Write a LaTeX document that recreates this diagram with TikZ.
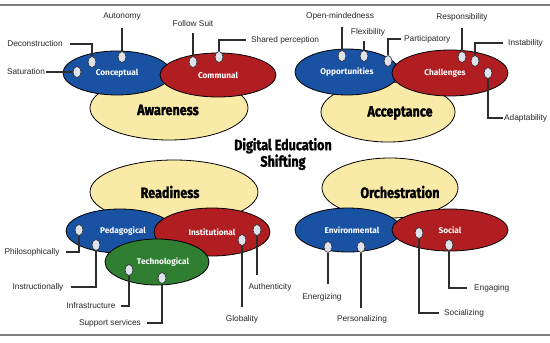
\documentclass[tikz,border=0pt]{standalone}
\usepackage{fontspec}
\setmainfont{Liberation Sans}
\newfontfamily\headfont[FakeStretch=0.84,FakeBold=1.4]{Fira Sans}
\newfontfamily\ovfont{Fira Sans}
\usetikzlibrary{shapes.geometric,calc}
\definecolor{ovblue}{RGB}{25,82,162}
\definecolor{ovred}{RGB}{176,30,34}
\definecolor{ovyellow}{RGB}{250,234,168}
\definecolor{ovgreen}{RGB}{48,126,50}
\definecolor{dotfill}{RGB}{222,226,236}
\definecolor{leadgray}{RGB}{45,45,45}
\definecolor{framegray}{RGB}{125,125,125}
\tikzset{ov/.style={ellipse, draw=black, line width=0.8pt, inner sep=0pt}}
\tikzset{big/.style={ov, fill=ovyellow}}
\tikzset{head/.style={font=\headfont\bfseries\fontsize{15}{15}\selectfont}}
\tikzset{sub/.style={ov, text=white, font=\ovfont\bfseries\fontsize{8.3}{8.3}\selectfont}}
\tikzset{dot/.style={ellipse, draw=leadgray, line width=0.6pt, fill=dotfill, minimum width=8pt, minimum height=11pt, inner sep=0pt}}
\tikzset{lbl/.style={font=\fontsize{8.3}{8.3}\selectfont, text=black!85, inner sep=1pt}}
\tikzset{lead/.style={draw=leadgray, line width=1.1pt}}

\begin{document}
\begin{tikzpicture}[x=1pt,y=-1pt]
  \useasboundingbox (0,0) rectangle (550,343);
  \fill[white] (0,0) rectangle (550,343);
  \draw[framegray, line width=2pt] (0,5) -- (550,5);
  \draw[framegray, line width=2pt] (0,335) -- (550,335);

  % awareness
  \node[big, minimum width=158pt, minimum height=64pt] (aware) at (169,108) {};
  \node[sub, fill=ovblue, minimum width=108pt, minimum height=44pt] (concep) at (117,73) {Conceptual};
  \node[sub, fill=ovred, minimum width=116pt, minimum height=44pt] (commun) at (218,75) {Communal};
  \node[head] (awaret) at (168,110) {Awareness};
  \node[dot] (d1) at (77,72) {};
  \node[dot] (d2) at (92,62) {};
  \node[dot] (d3) at (122,57) {};
  \node[dot] (d4) at (193,62) {};
  \node[dot] (d5) at (219,57) {};
  \node[lbl] (satur) at (26,72) {Saturation};
  \node[lbl] (decon) at (35,44) {Deconstruction};
  \node[lbl] (auton) at (122,17) {Autonomy};
  \node[lbl] (fsuit) at (193,24) {Follow Suit};
  \node[lbl, anchor=west] (share) at (250,40) {Shared perception};
  \draw[lead] (satur.east) -- (d1);
  \draw[lead] ([xshift=6pt]decon.east) -| (d2);
  \draw[lead] (d3) -- ($(auton.south)+(0,6)$);
  \draw[lead] (d4) -- ($(fsuit.south)+(0,5)$);
  \draw[lead] ([xshift=-4pt]share.west) -| (d5);

  % acceptance
  \node[big, minimum width=134pt, minimum height=60pt] (accep) at (388,112) {};
  \node[sub, fill=ovblue, minimum width=104pt, minimum height=46pt] (oppor) at (347,72) {Opportunities};
  \node[sub, fill=ovred, minimum width=116pt, minimum height=46pt] (chall) at (450,73) {\hspace*{-10pt}Challenges};
  \node[head] (accept) at (400,113) {Acceptance};
  \node[dot] (d6) at (342,56) {};
  \node[dot] (d7) at (364,56) {};
  \node[dot] (d8) at (388,61) {};
  \node[dot] (d9) at (462,57) {};
  \node[dot] (d10) at (475,61) {};
  \node[dot] (d11) at (488,73) {};
  \node[lbl] (openm) at (340,16) {Open-mindedness};
  \node[lbl] (flex) at (368,32) {Flexibility};
  \node[lbl, anchor=west] (partic) at (403,39) {Participatory};
  \node[lbl] (respon) at (462,17) {Responsibility};
  \node[lbl, anchor=west] (instab) at (507,43) {Instability};
  \node[lbl, anchor=west] (adapt) at (503,118) {Adaptability};
  \draw[lead] (d6) -- ($(d6 |- openm.south)+(0,6)$);
  \draw[lead] (d7) -- ($(d7 |- flex.south)+(0,4)$);
  \draw[lead] ([xshift=-2pt]partic.west) -| (d8);
  \draw[lead] (d9) -- ($(respon.south)+(0,6)$);
  \draw[lead] ([xshift=-4pt]instab.west) -| (d10);
  \draw[lead] (d11) |- (adapt.west);

  \node[head, align=center] (title) at (283,154) {Digital Education\\Shifting};

  % readiness
  \node[big, minimum width=168pt, minimum height=64pt] (ready) at (174,192) {};
  \node[head] (readyt) at (170,192) {Readiness};
  \node[sub, fill=ovblue, minimum width=108pt, minimum height=44pt] (pedag) at (120,231) {\hspace*{6pt}Pedagogical};
  \node[sub, fill=ovred, minimum width=116pt, minimum height=48pt] (instit) at (212,232) {Institutional};
  \node[sub, fill=ovgreen, minimum width=104pt, minimum height=46pt] (techn) at (157,262) {\hspace*{12pt}Technological};
  \node[dot] (d12) at (79,230) {};
  \node[dot] (d13) at (96,245) {};
  \node[dot] (d14) at (242,240) {};
  \node[dot] (d15) at (257,230) {};
  \node[dot] (d16) at (129,270) {};
  \node[dot] (d17) at (162,278) {};
  \node[lbl] (philo) at (32,252) {Philosophically};
  \node[lbl] (instr) at (38,287) {Instructionally};
  \node[lbl] (infra) at (91,306) {Infrastructure};
  \node[lbl] (suppt) at (110,323) {Support services};
  \node[lbl] (authen) at (270,287) {Authenticity};
  \node[lbl] (glob) at (242,319) {Globality};
  \draw[lead] ([xshift=5pt]philo.east) -| (d12);
  \draw[lead] ([xshift=6pt]instr.east) -| (d13);
  \draw[lead] ([xshift=4pt]infra.east) -| (d16);
  \draw[lead] ([xshift=5pt]suppt.east) -| (d17);
  \draw[lead] (d15) -- ($(d15 |- authen.north)+(0,-7)$);
  \draw[lead] (d14) -- ($(glob.north)+(0,-7)$);

  % orchestration
  \node[big, minimum width=136pt, minimum height=60pt] (orch) at (390,188) {};
  \node[head] (orcht) at (400,192) {Orchestration};
  \node[sub, fill=ovblue, minimum width=106pt, minimum height=44pt] (envir) at (348,230) {\hspace*{8pt}Environmental};
  \node[sub, fill=ovred, minimum width=116pt, minimum height=42pt] (socl) at (450,230) {Social};
  \node[dot] (d18) at (328,247) {};
  \node[dot] (d19) at (361,247) {};
  \node[dot] (d20) at (419,233) {};
  \node[dot] (d21) at (449,245) {};
  \node[lbl] (energ) at (322,297) {Energizing};
  \node[lbl] (person) at (362,319) {Personalizing};
  \node[lbl, anchor=west] (socz) at (443,313) {Socializing};
  \node[lbl, anchor=west] (engag) at (473,288) {Engaging};
  \draw[lead] (d18) -- ($(d18 |- energ.north)+(0,-8)$);
  \draw[lead] (d19) -- ($(d19 |- person.north)+(0,-6)$);
  \draw[lead] (d20) |- ([xshift=-4pt]socz.west);
  \draw[lead] (d21) |- ([xshift=-6pt]engag.west);
\end{tikzpicture}
\end{document}
